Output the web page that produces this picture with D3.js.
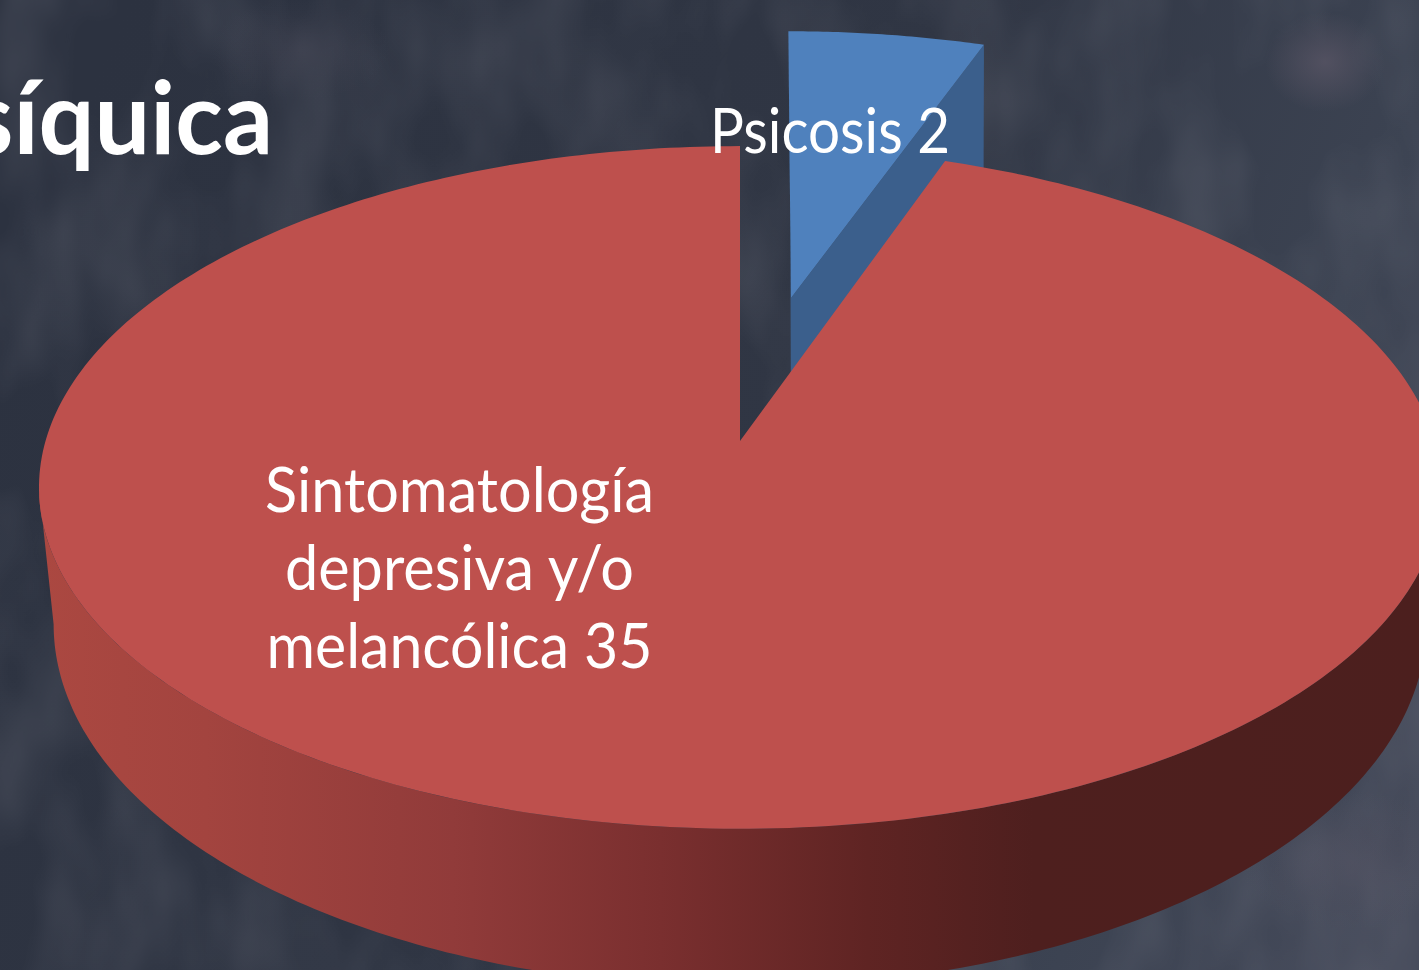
<!DOCTYPE html>
<html><head><meta charset="utf-8">
<script src="https://cdnjs.cloudflare.com/ajax/libs/d3/7.8.5/d3.min.js"></script>
<style>html,body{margin:0;padding:0;background:#2f3543;overflow:hidden}svg{display:block}text{font-family:Lato,"Noto Sans",sans-serif;fill:#fff}</style>
</head><body><script>
const categories = ["Psicosis", "Sintomatología depresiva y/o melancólica"];
const values = [2, 35];
const labelLines = [["Psicosis 2"], ["Sintomatología", "depresiva y/o", "melancólica 35"]];
const titleText = "síquica";

const W = 1419, H = 970;
const svg = d3.select("body").append("svg").attr("width", W).attr("height", H);
const defs = svg.append("defs");

// background
const bg = defs.append("linearGradient").attr("id","bg").attr("gradientUnits","userSpaceOnUse").attr("x1",0).attr("y1",300).attr("x2",1419).attr("y2",900);
[[0,"#2c3240"],[0.5,"#303644"],[0.8,"#3c4352"],[1,"#454a5a"]].forEach(s=>bg.append("stop").attr("offset",s[0]).attr("stop-color",s[1]));
const tf = defs.append("filter").attr("id","tex").attr("x",0).attr("y",0).attr("width","100%").attr("height","100%");
tf.append("feTurbulence").attr("type","fractalNoise").attr("baseFrequency","0.012 0.006").attr("numOctaves",3).attr("seed",11);
tf.append("feColorMatrix").attr("type","matrix").attr("values","0 0 0 0 0.40  0 0 0 0 0.40  0 0 0 0 0.46  1.4 0 0 0 -0.52");
const blob = defs.append("radialGradient").attr("id","blob");
blob.append("stop").attr("offset",0).attr("stop-color","#5a5666").attr("stop-opacity",0.75);
blob.append("stop").attr("offset",1).attr("stop-color","#5a5666").attr("stop-opacity",0);
svg.append("rect").attr("width",W).attr("height",H).attr("fill","url(#bg)");
svg.append("rect").attr("width",W).attr("height",H).attr("filter","url(#tex)").attr("opacity",0.2);
svg.append("ellipse").attr("cx",1325).attr("cy",62).attr("rx",60).attr("ry",50).attr("fill","url(#blob)");
svg.append("ellipse").attr("cx",1350).attr("cy",860).attr("rx",110).attr("ry",70).attr("fill","url(#blob)").attr("opacity",.45);
svg.append("ellipse").attr("cx",300).attr("cy",50).attr("rx",90).attr("ry",50).attr("fill","url(#blob)").attr("opacity",.3);

// wall shading
const wallGrad = defs.append("linearGradient").attr("id","wall").attr("gradientUnits","userSpaceOnUse").attr("x1",40).attr("x2",1419).attr("y1",0).attr("y2",0);
[[0,"#ab4841"],[0.12,"#a3443f"],[0.3,"#913b3a"],[0.45,"#7a2f2f"],[0.6,"#5f2423"],[0.72,"#4e1f1e"],[1,"#4c1f1e"]].forEach(s=>wallGrad.append("stop").attr("offset",s[0]).attr("stop-color",s[1]));

// perspective projection of the unit disc: angle from the pie layout -> screen
const k = 0.136;
const proj = (p, a, r=1) => {
  const u = Math.sin(a)*r, v = Math.cos(a)*r, d = 1 + k*v;
  return [p.x + p.A*u/d + (p.skew||0)*v/d, p.y - p.B*v/d];
};
const redTop  = {x:740, y:441, A:694.5, B:335};
const redBase = {x:740, y:575, A:680,   B:356};
const blueTop = {x:791, y:298, A:662,   B:303, skew:-3};
const blueBase= {x:791, y:433, A:655,   B:303, skew:-1};

const pie = d3.pie().sort(null).value(d=>d)(values);
const line = d3.line();
const arcPts = (p, a0, a1, n=160) => d3.range(n+1).map(i => proj(p, a0 + (a1-a0)*i/n));
const blue = pie[0], red = pie[1];

// blue slice: cut face, then top
svg.append("path").attr("fill","#3b5f8c").attr("d", line([proj(blueTop,blue.endAngle),proj(blueTop,0,0),proj(blueBase,0,0),proj(blueBase,blue.endAngle)])+"Z");
svg.append("path").attr("fill","#3f628e").attr("d", line([proj(blueTop,0,0),proj(blueTop,0),proj(blueBase,0),proj(blueBase,0,0)])+"Z");
svg.append("path").attr("fill","#4f81bd").attr("d", line([proj(blueTop,0,0),...arcPts(blueTop,blue.startAngle,blue.endAngle,40)])+"Z");

// red slice: front wall, then top
const ext = Math.acos(-k);           // silhouette angle
const w0 = ext, w1 = 2*Math.PI - ext;
svg.append("path").attr("fill","url(#wall)").attr("d", line([...arcPts(redTop,w0,w1,200),...arcPts(redBase,w1,w0,200)])+"Z");
svg.append("path").attr("fill","#be504d").attr("d", line([proj(redTop,0,0),...arcPts(redTop,red.startAngle,red.endAngle,360)])+"Z");

// labels
const label = (lines, cx, y0, dy, size, lens) => lines.forEach((t,i)=>
  svg.append("text").attr("x",cx).attr("y",y0+i*dy).attr("text-anchor","middle").attr("font-size",size)
    .attr("textLength",lens[i]).attr("lengthAdjust","spacingAndGlyphs").text(t));
label(labelLines[0], 830, 153, 0, 62, [240]);
label(labelLines[1], 459.5, 512, 78, 62, [389,349,386]);

svg.append("text").attr("x",-30).attr("y",154).attr("font-size",101).attr("font-weight",700)
  .attr("textLength",303).attr("lengthAdjust","spacingAndGlyphs").text(titleText);
</script></body></html>
